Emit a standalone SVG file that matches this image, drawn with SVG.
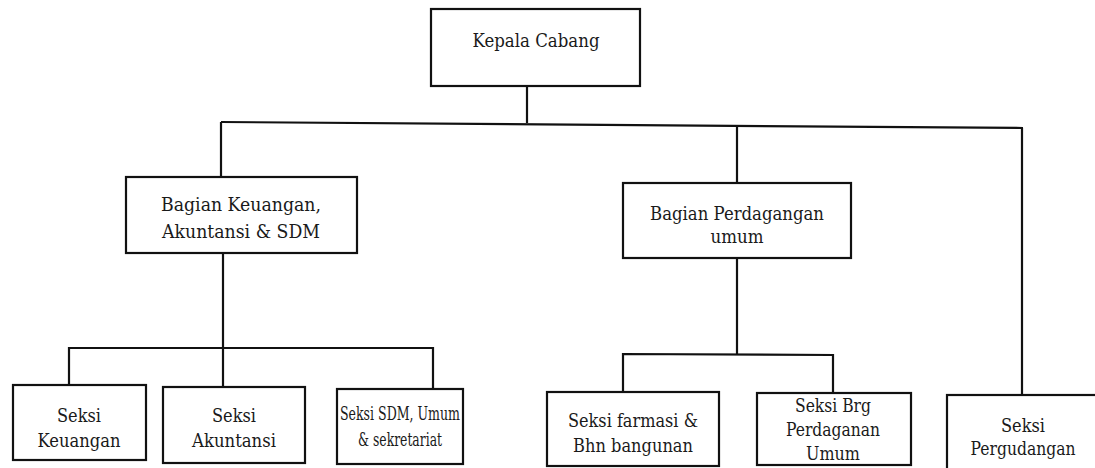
<svg xmlns="http://www.w3.org/2000/svg" width="1095" height="468" viewBox="0 0 1095 468">
  <style>
    .box { fill: #ffffff; stroke: #111111; stroke-width: 2.2; }
    .ln { fill: none; stroke: #111111; stroke-width: 2.2; }
    .t { font-family: "DejaVu Serif", "Liberation Serif", "Noto Serif", serif; font-size: 19px; fill: #1a1a1a; text-anchor: middle; }
  </style>
  <rect width="1095" height="468" fill="#ffffff"/>
  <g id="connectors">
    <line class="ln" x1="527" y1="86" x2="527" y2="123"/>
    <line class="ln" x1="221" y1="122" x2="1023" y2="128"/>
    <line class="ln" x1="221" y1="122" x2="221" y2="177"/>
    <line class="ln" x1="737" y1="125" x2="737" y2="183"/>
    <line class="ln" x1="1022" y1="128" x2="1022" y2="395"/>
    <line class="ln" x1="223" y1="253" x2="223" y2="387"/>
    <polyline class="ln" points="69,385 69,348 433,348 433,389"/>
    <line class="ln" x1="737" y1="258" x2="737" y2="354"/>
    <polyline class="ln" points="623,392 623,354 833,355 833,393"/>
  </g>
  <g id="kepala-cabang">
    <rect class="box" x="431" y="9" width="209" height="77"/>
    <text class="t" x="536" y="47" textLength="127" lengthAdjust="spacingAndGlyphs">Kepala Cabang</text>
  </g>
  <g id="bagian-keuangan">
    <rect class="box" x="126" y="177" width="231" height="76"/>
    <text class="t" x="241" y="211" textLength="160" lengthAdjust="spacingAndGlyphs">Bagian Keuangan,</text>
    <text class="t" x="241" y="238" textLength="158" lengthAdjust="spacingAndGlyphs">Akuntansi &amp; SDM</text>
  </g>
  <g id="bagian-perdagangan">
    <rect class="box" x="623" y="183" width="228" height="75"/>
    <text class="t" x="737" y="220" textLength="174" lengthAdjust="spacingAndGlyphs">Bagian Perdagangan</text>
    <text class="t" x="737" y="243" textLength="53" lengthAdjust="spacingAndGlyphs">umum</text>
  </g>
  <g id="seksi-keuangan">
    <rect class="box" x="13" y="385" width="133" height="75"/>
    <text class="t" x="79" y="422" textLength="44" lengthAdjust="spacingAndGlyphs">Seksi</text>
    <text class="t" x="79" y="447" textLength="83" lengthAdjust="spacingAndGlyphs">Keuangan</text>
  </g>
  <g id="seksi-akuntansi">
    <rect class="box" x="163" y="387" width="142" height="76"/>
    <text class="t" x="234" y="422" textLength="44" lengthAdjust="spacingAndGlyphs">Seksi</text>
    <text class="t" x="234" y="447" textLength="84" lengthAdjust="spacingAndGlyphs">Akuntansi</text>
  </g>
  <g id="seksi-sdm">
    <rect class="box" x="337" y="389" width="126" height="75"/>
    <text class="t" x="400" y="420" textLength="120" lengthAdjust="spacingAndGlyphs">Seksi SDM, Umum</text>
    <text class="t" x="400" y="446" textLength="84" lengthAdjust="spacingAndGlyphs">&amp; sekretariat</text>
  </g>
  <g id="seksi-farmasi">
    <rect class="box" x="547" y="392" width="172" height="74"/>
    <text class="t" x="633" y="427" textLength="130" lengthAdjust="spacingAndGlyphs">Seksi farmasi &amp;</text>
    <text class="t" x="633" y="452" textLength="120" lengthAdjust="spacingAndGlyphs">Bhn bangunan</text>
  </g>
  <g id="seksi-brg">
    <rect class="box" x="757" y="393" width="154" height="72"/>
    <text class="t" x="833" y="412" textLength="76" lengthAdjust="spacingAndGlyphs">Seksi Brg</text>
    <text class="t" x="833" y="436" textLength="94" lengthAdjust="spacingAndGlyphs">Perdaganan</text>
    <text class="t" x="833" y="460" textLength="54" lengthAdjust="spacingAndGlyphs">Umum</text>
  </g>
  <g id="seksi-pergudangan">
    <rect class="box" x="947" y="395" width="155" height="78"/>
    <text class="t" x="1023" y="432" textLength="44" lengthAdjust="spacingAndGlyphs">Seksi</text>
    <text class="t" x="1023" y="455" textLength="105" lengthAdjust="spacingAndGlyphs">Pergudangan</text>
  </g>
</svg>
